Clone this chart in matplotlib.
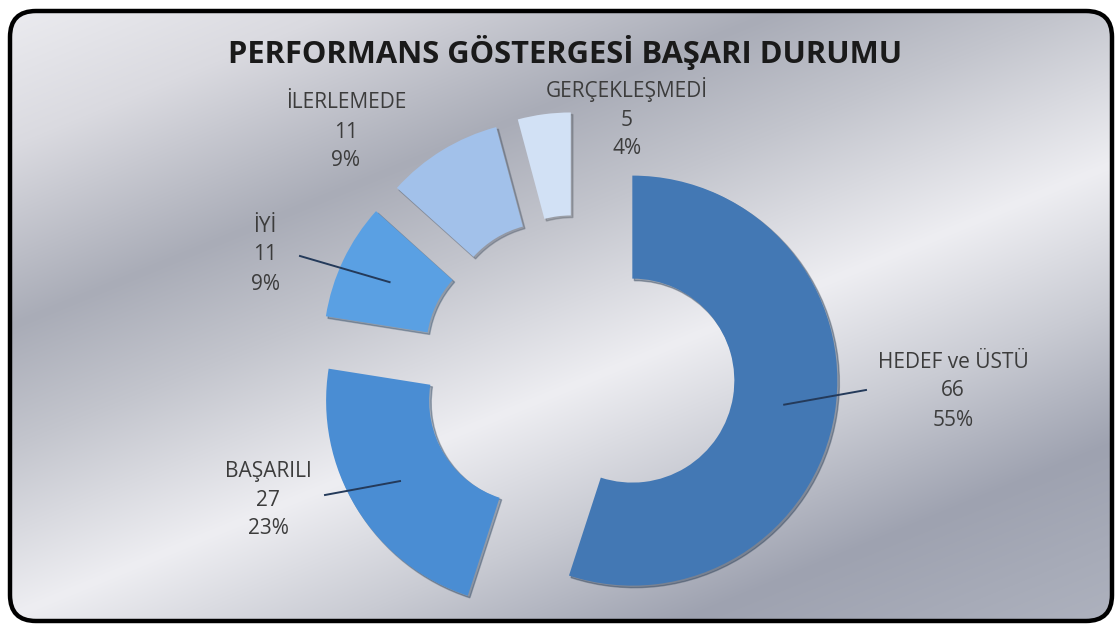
import numpy as np
import matplotlib.pyplot as plt
from matplotlib.patches import FancyBboxPatch
from matplotlib.colors import to_rgb

# Performans göstergesi durum dağılımı
categories = ["HEDEF ve ÜSTÜ", "BAŞARILI", "İYİ", "İLERLEMEDE", "GERÇEKLEŞMEDİ"]
counts = [66, 27, 11, 11, 5]
colors = ["#4378b4", "#4a8dd3", "#5aa0e3", "#a2c1ea", "#d2e1f5"]

W, H = 1120, 628
fig = plt.figure(figsize=(W / 100, H / 100), dpi=100)
ax = fig.add_axes([0, 0, 1, 1])
ax.set_xlim(0, W)
ax.set_ylim(0, H)
ax.axis("off")


def iy(y):
    # image-style y (top down) -> data y
    return H - y


# brushed metal backdrop, banded along a diagonal
xx, yy = np.meshgrid(np.arange(W), np.arange(H))
u = 0.41 * xx + yy
stops = [0, 150, 330, 450, 620, 760, 900, 1200]
stop_cols = ["#ededf1", "#dadae0", "#a9acb7", "#c3c5cd", "#eeeef2",
             "#c9cbd3", "#9ea2b0", "#b9bdc8"]
rgb = np.array([to_rgb(c) for c in stop_cols])
bg = np.dstack([np.interp(u, stops, rgb[:, k]) for k in range(3)])
frame = FancyBboxPatch((10, iy(621)), 1102, 610,
                       boxstyle="round,pad=0,rounding_size=26",
                       facecolor="none", edgecolor="black", lw=3.2, zorder=5)
ax.add_patch(frame)
im = ax.imshow(bg, extent=(0, W, 0, H), origin="upper", aspect="auto", zorder=0)
im.set_clip_path(frame)

# exploded doughnut
cx, cy, R = 578, iy(372), 205
wedges, _ = ax.pie(counts, explode=[55] * len(counts), radius=R, center=(cx, cy),
                   startangle=90, counterclock=False, colors=colors, frame=True,
                   wedgeprops=dict(width=103, edgecolor="none", zorder=2),
                   shadow=dict(ox=1.5, oy=-1.5, shade=0.6, alpha=0.35))
ax.set_xlim(0, W)
ax.set_ylim(0, H)
ax.set_aspect("auto")
ax.axis("off")

total = sum(counts)
pct = [int(100 * c / total + 0.5) for c in counts]

label_pos = [(953, 391), (268, 500), (265, 255), (346, 132), (627, 118)]
leader_start = [(866, 390), (325, 495), (300, 256), None, None]
txt_kw = dict(ha="center", va="center", fontsize=15, color="#3c3c3c",
              family="Open Sans", linespacing=1.5, zorder=6)
for w, name, c, p, (lx, ly), ls in zip(wedges, categories, counts, pct,
                                       label_pos, leader_start):
    ax.text(lx, iy(ly), f"{name}\n{c}\n{p}%", **txt_kw)
    if ls is not None:
        mid = np.deg2rad((w.theta1 + w.theta2) / 2)
        ex = w.center[0] + 0.75 * w.r * np.cos(mid)
        ey = w.center[1] + 0.75 * w.r * np.sin(mid)
        ax.plot([ls[0], ex], [iy(ls[1]), ey], color="#243a5a", lw=1.4, zorder=4)

ax.text(565, iy(52), "PERFORMANS GÖSTERGESİ BAŞARI DURUMU", ha="center", va="center",
        fontsize=22.2, fontweight="bold", color="#1a1a1a", family="Open Sans", zorder=6)

fig.savefig("out.png", dpi=100)
